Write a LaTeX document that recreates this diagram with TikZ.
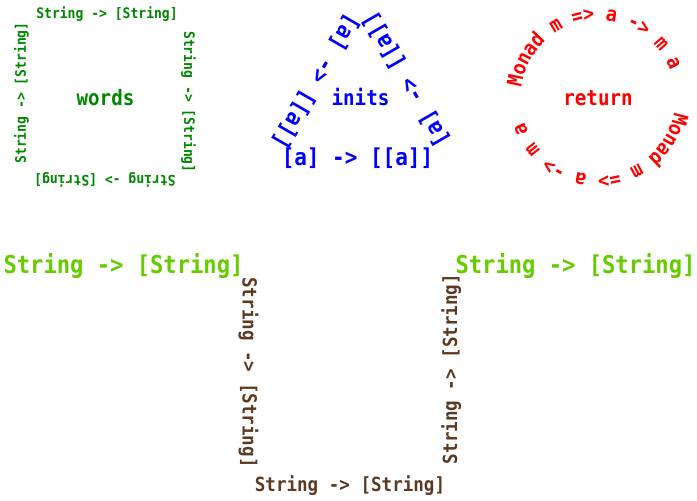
\documentclass[tikz,border=0pt]{standalone}
\usepackage{fontspec}
\newfontfamily\hmono[FakeStretch=0.9]{DejaVu Sans Mono Bold}
\definecolor{dgreen}{RGB}{0,135,0}
\definecolor{tblue}{RGB}{0,0,255}
\definecolor{tred}{RGB}{255,0,0}
\definecolor{tlime}{RGB}{102,204,0}
\definecolor{tbrown}{RGB}{92,58,33}
\tikzset{
  lbl/.style={inner sep=0pt, outer sep=0pt, anchor=base, font=\hmono\fontsize{#1}{#1}\selectfont},
  sqtext/.style={lbl=14.5, text=dgreen},
  title/.style={lbl=21.3},
  tritext/.style={lbl=23.3, text=tblue},
  circtext/.style={lbl=20.5, text=tred},
  limetext/.style={lbl=24.6, text=tlime},
  browntext/.style={lbl=19.5, text=tbrown}
}
\begin{document}
\begin{tikzpicture}[x=1pt,y=1pt]
\useasboundingbox (0,0) rectangle (697,501);

% ---- words square ----
\node[title, text=dgreen] (words) at (105.5,395) {words};
\node[sqtext, rotate=0]   (sqT) at (107,482) {String -> [String]};
\node[sqtext, rotate=-90] (sqR) at (184,399) {String -> [String]};
\node[sqtext, rotate=180] (sqB) at (105,325) {String -> [String]};
\node[sqtext, rotate=90]  (sqL) at (26,408)  {String -> [String]};

% ---- inits triangle ----
\node[title, text=tblue] (inits) at (360.5,395) {inits};
\node[tritext, rotate=0]   (triB) at (357.5,335.5) {[a] -> [[a]]};
\node[tritext, rotate=120] (triR) at (412.3,425.2) {[a] -> [[a]]};
\node[tritext, rotate=240] (triL) at (309.8,423) {[a] -> [[a]]};

% ---- return circle ----
\node[title, text=tred] (return) at (598,395) {return};
\begin{scope}[shift={(598,403)}]
\foreach \i/\c [evaluate=\i as \t using 168-7.95*\i] in
  {0/M,1/o,2/n,3/a,4/d,6/m,8/=,9/>,11/a,13/-,14/>,16/m,18/a}
  \node[circtext, rotate=\t-90] (ca\i) at (\t:77.5) {\c};
\foreach \i/\c [evaluate=\i as \t using -14.5-7.95*\i] in
  {0/M,1/o,2/n,3/a,4/d,6/m,8/=,9/>,11/a,13/-,14/>,16/m,18/a}
  \node[circtext, rotate=\t-90] (cb\i) at (\t:77.5) {\c};
\end{scope}

% ---- bottom composition ----
\node[limetext] (limeL) at (123.5,227) {String -> [String]};
\node[limetext] (limeR) at (575.5,227) {String -> [String]};
\node[browntext, rotate=-90] (brL) at (242.5,128.5) {String -> [String]};
\node[browntext, rotate=0]   (brB) at (350,9)       {String -> [String]};
\node[browntext, rotate=90]  (brR) at (457,132)     {String -> [String]};
\end{tikzpicture}
\end{document}
